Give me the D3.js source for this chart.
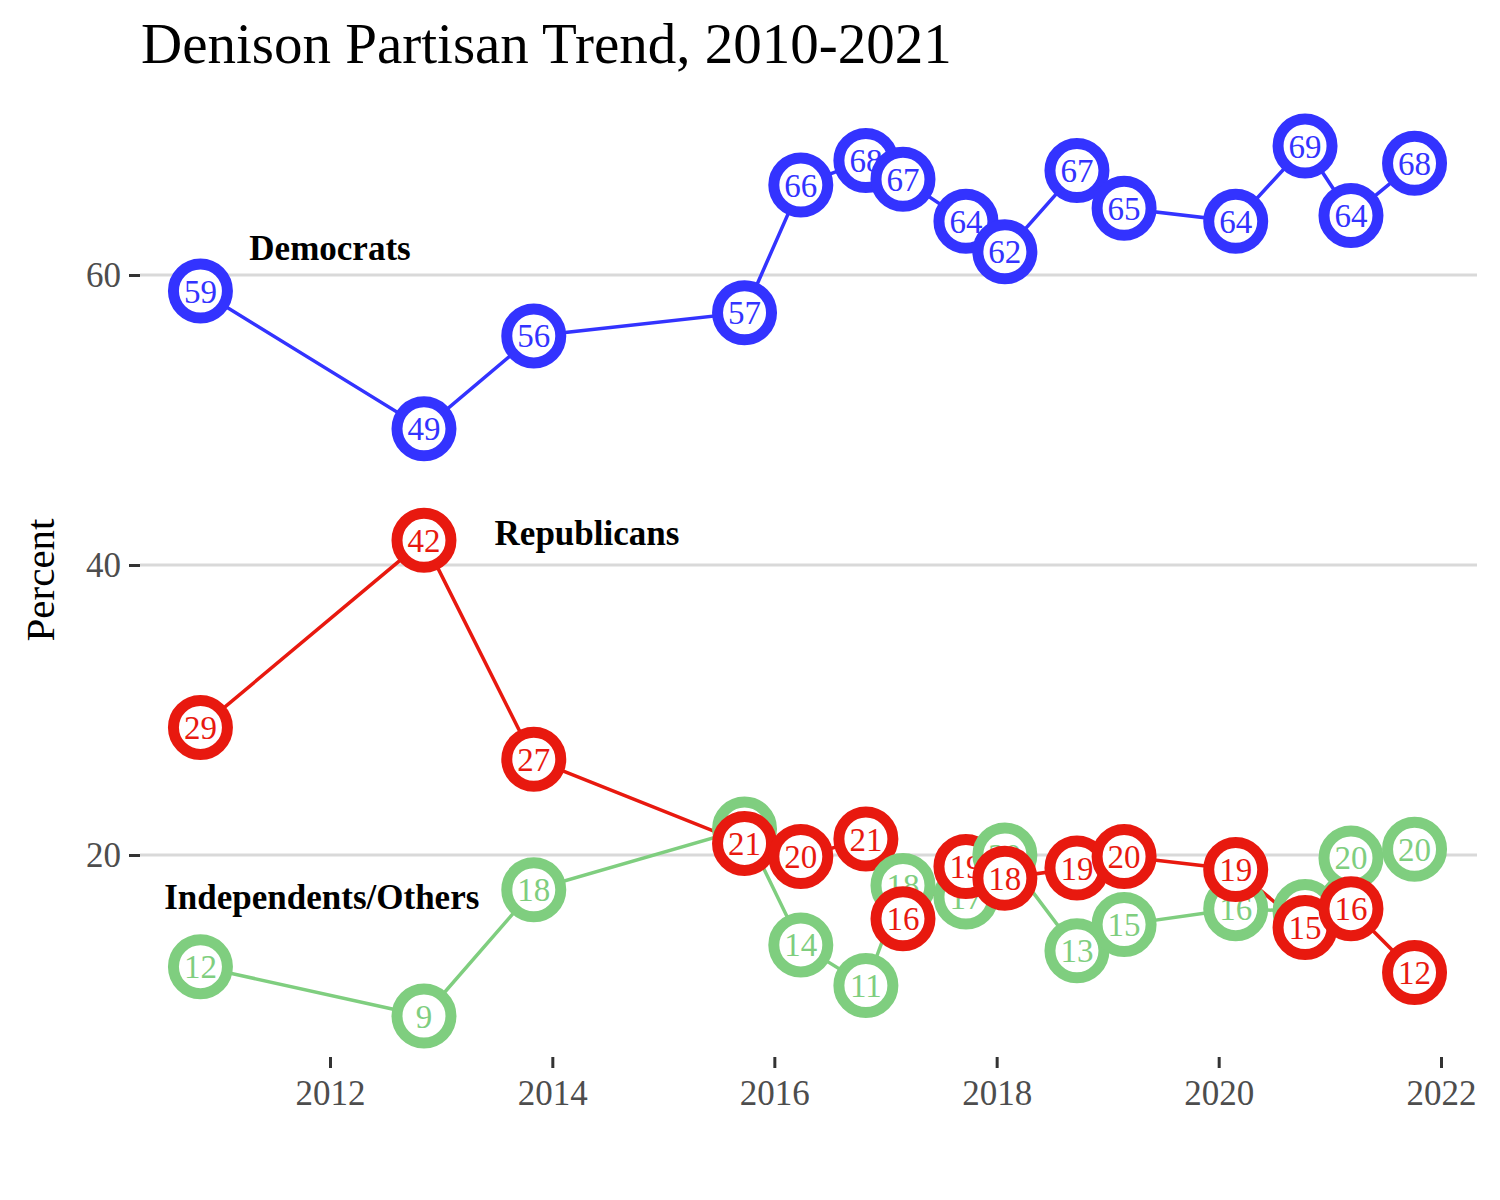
<!DOCTYPE html>
<html>
<head>
<meta charset="utf-8">
<script src="https://cdn.jsdelivr.net/npm/d3@7"></script>
<style>
  body { margin: 0; background: #fff; }
  svg { font-family: "Liberation Serif", "DejaVu Serif", serif; }
</style>
</head>
<body>
<svg id="chart" width="1500" height="1200"></svg>
<script>
// survey dates (field dates)
var dates = ["2010-11-01", "2012-11-05", "2013-11-01", "2015-09-25", "2016-03-28",
             "2016-10-28", "2017-02-27", "2017-09-22", "2018-01-28", "2018-09-22",
             "2019-02-24", "2020-02-26", "2020-10-11", "2021-03-11", "2021-10-06"];

var democrats    = [58.9, 49.4, 55.8, 57.4, 66.2, 67.9, 66.6, 63.7, 61.6, 67.2, 64.6, 63.7, 68.9, 64.1, 67.7];
var republicans  = [28.8, 41.7, 26.6, 20.8, 19.9, 21.1, 15.6, 19.2, 18.4, 19.1, 19.9, 19.0, 15.0, 16.3, 11.9];
var independents = [12.3,  8.9, 17.6, 21.8, 13.8, 11.0, 17.9, 17.1, 20.0, 13.4, 15.2, 16.3, 16.1, 19.8, 20.4];

var yTicks = [20, 40, 60];
var xTickYears = [2012, 2014, 2016, 2018, 2020, 2022];

var seriesNames = ["Independents/Others", "Republicans", "Democrats"];
var seriesColors = {"Democrats": "#3333ff", "Republicans": "#e8190f", "Independents/Others": "#7fce7f"};
// where the direct labels sit: [date, value]
var seriesLabels = {
    "Democrats": ["2012-01-01", 61.9],
    "Republicans": ["2014-04-25", 42.2],
    "Independents/Others": ["2011-12-05", 17.1]
};

var parse = d3.timeParse("%Y-%m-%d");

var svg = d3.select("#chart");

var plot = {left: 140, right: 1477, top: 100, bottom: 1057};

var x = d3.scaleTime()
    .domain([new Date(2012, 0, 1), new Date(2022, 0, 1)])
    .range([330, 1441]);

var y = d3.scaleLinear()
    .domain([20, 60])
    .range([855, 275]);

// build series
var series = seriesNames.map(function(name){
    var vals = name === "Democrats" ? democrats : (name === "Republicans" ? republicans : independents);
    return {
        name: name,
        values: dates.map(function(d, i){ return {date: parse(d), value: vals[i], name: name}; })
    };
});

// Title
svg.append("text")
    .attr("x", 141).attr("y", 63)
    .attr("font-size", 57)
    .attr("fill", "#000")
    .text("Denison Partisan Trend, 2010-2021");

// Grid lines
svg.append("g").selectAll("line")
    .data(yTicks).enter().append("line")
    .attr("x1", plot.left).attr("x2", plot.right)
    .attr("y1", function(d){ return y(d); })
    .attr("y2", function(d){ return y(d); })
    .attr("stroke", "#d9d9d9")
    .attr("stroke-width", 3);

// y axis
var yAxis = svg.append("g")
    .attr("transform", "translate(" + plot.left + ",0)")
    .call(d3.axisLeft(y).tickValues(yTicks).tickSize(11).tickPadding(8));
yAxis.select(".domain").remove();
yAxis.selectAll(".tick line").attr("stroke", "#333").attr("stroke-width", 3);
yAxis.selectAll(".tick text")
    .attr("font-size", 35)
    .attr("fill", "#4d4d4d")
    .attr("font-family", "Liberation Serif, serif")
    .attr("dy", "0.34em");

// x axis
var xAxis = svg.append("g")
    .attr("transform", "translate(0," + plot.bottom + ")")
    .call(d3.axisBottom(x)
        .tickValues(xTickYears.map(function(yr){ return new Date(yr, 0, 1); }))
        .tickFormat(d3.timeFormat("%Y"))
        .tickSize(11).tickPadding(12));
xAxis.select(".domain").remove();
xAxis.selectAll(".tick line").attr("stroke", "#333").attr("stroke-width", 3);
xAxis.selectAll(".tick text")
    .attr("font-size", 35)
    .attr("fill", "#4d4d4d")
    .attr("font-family", "Liberation Serif, serif");

// y axis title
svg.append("text")
    .attr("transform", "translate(54,580) rotate(-90)")
    .attr("text-anchor", "middle")
    .attr("font-size", 41)
    .attr("fill", "#000")
    .text("Percent");

// lines
var line = d3.line()
    .x(function(d){ return x(d.date); })
    .y(function(d){ return y(d.value); });

svg.append("g").selectAll("path")
    .data(series).enter().append("path")
    .attr("d", function(d){ return line(d.values); })
    .attr("fill", "none")
    .attr("stroke", function(d){ return seriesColors[d.name]; })
    .attr("stroke-width", 3.5);

// points: by date, green under red; blue on its own
var pts = [];
series.forEach(function(s){ pts = pts.concat(s.values); });
var order = {"Independents/Others": 0, "Republicans": 1, "Democrats": 2};
pts.sort(function(a, b){
    if (order[a.name] === 2 && order[b.name] !== 2) return 1;
    if (order[b.name] === 2 && order[a.name] !== 2) return -1;
    if (a.date - b.date !== 0) return a.date - b.date;
    return order[a.name] - order[b.name];
});

var pg = svg.append("g").selectAll("g")
    .data(pts).enter().append("g")
    .attr("transform", function(d){ return "translate(" + x(d.date) + "," + y(d.value) + ")"; });

pg.append("circle")
    .attr("r", 27)
    .attr("fill", "#fff")
    .attr("stroke", function(d){ return seriesColors[d.name]; })
    .attr("stroke-width", 11);

pg.append("text")
    .attr("text-anchor", "middle")
    .attr("dy", "0.35em")
    .attr("font-size", 33)
    .attr("fill", function(d){ return seriesColors[d.name]; })
    .text(function(d){ return Math.round(d.value); });

// series labels
svg.append("g").selectAll("text")
    .data(seriesNames).enter().append("text")
    .attr("x", function(d){ return x(parse(seriesLabels[d][0])); })
    .attr("y", function(d){ return y(seriesLabels[d][1]); })
    .attr("text-anchor", "middle")
    .attr("dy", "0.35em")
    .attr("font-size", 35)
    .attr("font-weight", "bold")
    .attr("fill", "#000")
    .text(function(d){ return d; });
</script>
</body>
</html>
